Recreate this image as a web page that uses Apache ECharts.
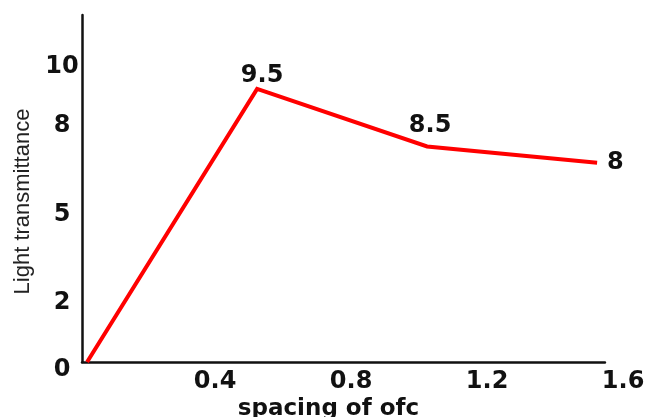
<!DOCTYPE html>
<html>
<head>
<meta charset="utf-8">
<script src="https://cdn.jsdelivr.net/npm/echarts@6/dist/echarts.min.js"></script>
<style>html,body{margin:0;padding:0;background:#fff}#c{width:650px;height:417px}</style>
</head>
<body>
<div id="c"></div>
<script>
// ---- data ----
const xValues = [0, 0.5, 1.0, 1.5];
const yValues = [0, 9.25, 7.3, 6.75];
const pointLabels = ['', '9.5', '8.5', '8'];
const xTickLabels = [0.4, 0.8, 1.2, 1.6];
const yTickLabels = [0, 2, 5, 8, 10];
const xTitle = 'spacing of ofc';
const yTitle = 'Light transmittance';

// ---- layout ----
const numFont = 'DejaVu Sans';
const pxPerX = 340;
const xMin = -0.015;
const xMaxAxis = 1.523;
const xMaxLabels = 1.6;
const yMax = 11.75;

const labelStyles = [
  {show: false},
  {show: true, position: 'top', distance: 1, offset: [5, 0]},
  {show: true, position: 'top', distance: 9, offset: [3, 0]},
  {show: true, position: 'right', distance: 10}
];

const seriesData = xValues.map((x, i) => ({
  value: [x, yValues[i]],
  label: Object.assign({formatter: pointLabels[i]}, labelStyles[i])
}));

const chart = echarts.init(document.getElementById('c'), null, {renderer: 'canvas'});
chart.setOption({
  animation: false,
  backgroundColor: '#ffffff',
  grid: [
    {left: 82, top: 15, width: (xMaxAxis - xMin) * pxPerX, height: 347, outerBoundsMode: 'none', containLabel: false},
    {left: 82, top: 15, width: (xMaxLabels - xMin) * pxPerX, height: 347, outerBoundsMode: 'none', containLabel: false}
  ],
  xAxis: [
    {
      type: 'value', gridIndex: 0, min: xMin, max: xMaxAxis,
      axisLine: {show: true, onZero: false, lineStyle: {color: '#111', width: 2.5}},
      axisTick: {show: false}, splitLine: {show: false}, axisLabel: {show: false},
      name: xTitle, nameLocation: 'middle', nameGap: 36,
      nameTextStyle: {fontFamily: numFont, fontWeight: 'bold', fontSize: 23, color: '#111', padding: [0, 30, 0, 0]}
    },
    {
      type: 'value', gridIndex: 1, min: xMin, max: xMaxLabels,
      axisLine: {show: false}, axisTick: {show: false}, splitLine: {show: false},
      axisLabel: {
        show: true, customValues: xTickLabels, margin: 8, padding: [0, 16, 0, 0],
        hideOverlap: false,
        fontFamily: numFont, fontWeight: 'bold', fontSize: 24, color: '#111',
        formatter: v => String(v)
      }
    }
  ],
  yAxis: [
    {
      type: 'value', gridIndex: 0, min: 0, max: yMax,
      axisLine: {show: true, onZero: false, lineStyle: {color: '#111', width: 2.5}},
      axisTick: {show: false}, splitLine: {show: false},
      axisLabel: {
        show: true, customValues: yTickLabels, margin: 20, align: 'center',
        fontFamily: numFont, fontWeight: 'bold', fontSize: 24, color: '#111',
        formatter: v => v === 0 ? '{zero|0}' : String(v),
        rich: {zero: {fontFamily: numFont, fontWeight: 'bold', fontSize: 24, color: '#111', padding: [16, 0, 0, 0]}}
      },
      name: yTitle, nameLocation: 'middle', nameGap: 47, nameRotate: 90,
      nameTextStyle: {fontFamily: 'Liberation Sans', fontSize: 22, color: '#222', padding: [0, 26, 0, 0]}
    },
    {
      type: 'value', gridIndex: 1, min: 0, max: yMax, show: false
    }
  ],
  series: [{
    type: 'line', xAxisIndex: 0, yAxisIndex: 0,
    data: seriesData,
    showSymbol: true, symbol: 'circle', symbolSize: 0,
    itemStyle: {color: '#ff0000'},
    lineStyle: {color: '#ff0000', width: 4, join: 'miter'},
    label: {show: true, fontFamily: numFont, fontWeight: 'bold', fontSize: 24, color: '#111'}
  }]
});
</script>
</body>
</html>
